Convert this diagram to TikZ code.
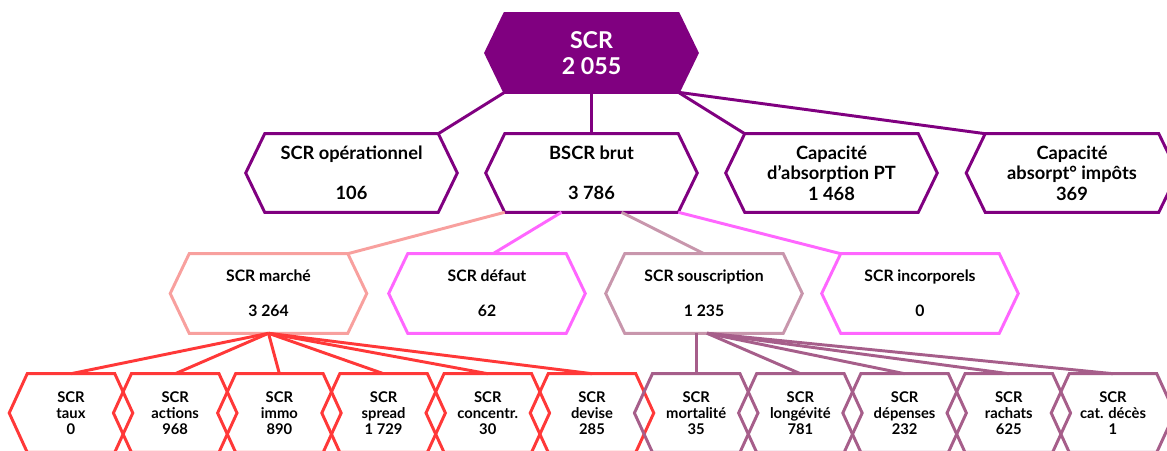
\documentclass[tikz,border=0pt]{standalone}
\usepackage{fontspec}
\setmainfont{Lato}
\usetikzlibrary{backgrounds}

\definecolor{scrpurple}{RGB}{128,0,128}
\definecolor{mktsalmon}{RGB}{248,160,158}
\definecolor{defpink}{RGB}{255,102,255}
\definecolor{souscmauve}{RGB}{200,150,172}
\definecolor{mktred}{RGB}{255,56,56}
\definecolor{souscplum}{RGB}{166,94,138}

\tikzset{
  hexbase/.style={rectangle, inner sep=0pt, align=center, font=\bfseries},
  lvltop/.style={hexbase, minimum width=4.325cm, minimum height=1.95cm, text=white,
    font=\fontsize{16.5}{18.5}\selectfont\bfseries},
  lvltwo/.style={hexbase, minimum width=4.325cm, minimum height=1.95cm,
    font=\fontsize{13}{14.5}\selectfont\bfseries},
  lvlthree/.style={hexbase, minimum width=3.95cm, minimum height=1.975cm,
    font=\fontsize{11.2}{13}\selectfont\bfseries},
  lvlfour/.style={hexbase, minimum width=2.175cm, minimum height=1.95cm,
    font=\fontsize{10.5}{11.5}\selectfont\bfseries},
  hexline/.style={line width=2.1pt},
  link/.style={line width=2.1pt}
}

\begin{document}
\begin{tikzpicture}[x=0.025cm, y=-0.025cm]
  \useasboundingbox (0,0) rectangle (1167,451);
  \clip (0,0) rectangle (1167,451);

  % top
  \node[lvltop] (scr) at (591.5,53) {SCR\\2 055};

  % second row
  \node[lvltwo] (ope) at (351.5,173) {SCR opérationnel\\[14pt]106};
  \node[lvltwo] (bscr) at (591.5,173) {BSCR brut\\[14pt]3 786};
  \node[lvltwo] (cappt) at (831.5,173) {Capacité\\d’absorption PT\\1 468};
  \node[lvltwo] (capimp) at (1072,173) {Capacité\\absorpt° impôts\\369};

  % third row
  \node[lvlthree] (marche) at (268.5,293.5) {SCR marché\\[12pt]3 264};
  \node[lvlthree] (defaut) at (487,293.5) {SCR défaut\\[12pt]62};
  \node[lvlthree] (sousc) at (704,293.5) {SCR souscription\\[12pt]1 235};
  \node[lvlthree] (incorp) at (920,293.5) {SCR incorporels\\[12pt]0};

  % fourth row
  \foreach \n/\t/\v [count=\i from 0] in {taux/taux/0, actions/actions/968,
      immo/immo/890, spread/spread/1 729, concentr/concentr./30,
      devise/devise/285, mortal/mortalité/35, longev/longévité/781,
      depenses/dépenses/232, rachats/rachats/625, catdeces/cat. décès/1}
    \node[lvlfour] (\n) at ({71+104.2*\i},413) {SCR\\\t\\\v};

  % connectors
  \draw[link, scrpurple] (scr.south west) -- (ope.north east);
  \draw[link, scrpurple] (scr.south) -- (bscr.north);
  \draw[link, scrpurple] (scr.south east) -- (cappt.north west);
  \draw[link, scrpurple] (scr.south east) -- (capimp.north west);

  \draw[link, mktsalmon] (bscr.south west) -- (marche.north east);
  \draw[link, defpink] ([shift={(-30,0)}]bscr.south) -- ([shift={(6,0)}]defaut.north);
  \draw[link, souscmauve] ([shift={(30,0)}]bscr.south) -- (sousc.north);
  \draw[link, defpink] (bscr.south east) -- (incorp.north west);

  \foreach \n in {taux,actions,immo,spread,concentr,devise}
    \draw[link, mktred] (marche.south) -- (\n.north);
  \draw[link, souscplum] (sousc.south -| mortal.north) -- (mortal.north);
  \foreach \n in {longev,depenses,rachats,catdeces}
    \draw[link, souscplum] ([shift={(3,0)}]sousc.south) -- (\n.north);

  % hexagon outlines
  \begin{scope}[on background layer]
    \filldraw[hexline, scrpurple] (scr.north west) -- (scr.north east)
      -- ([shift={(19,0)}]scr.east) -- (scr.south east) -- (scr.south west)
      -- ([shift={(-19,0)}]scr.west) -- cycle;
    \foreach \n/\c/\d in {ope/scrpurple/19, bscr/scrpurple/19, cappt/scrpurple/19,
        capimp/scrpurple/19, marche/mktsalmon/19, defaut/defpink/19,
        sousc/souscmauve/19, incorp/defpink/19,
        taux/mktred/18, actions/mktred/18, immo/mktred/18, spread/mktred/18,
        concentr/mktred/18, devise/mktred/18, mortal/souscplum/18,
        longev/souscplum/18, depenses/souscplum/18, rachats/souscplum/18,
        catdeces/souscplum/18}
      \draw[hexline, draw=\c] (\n.north west) -- (\n.north east)
        -- ([shift={(\d,0)}]\n.east) -- (\n.south east) -- (\n.south west)
        -- ([shift={(-\d,0)}]\n.west) -- cycle;
  \end{scope}
\end{tikzpicture}
\end{document}
